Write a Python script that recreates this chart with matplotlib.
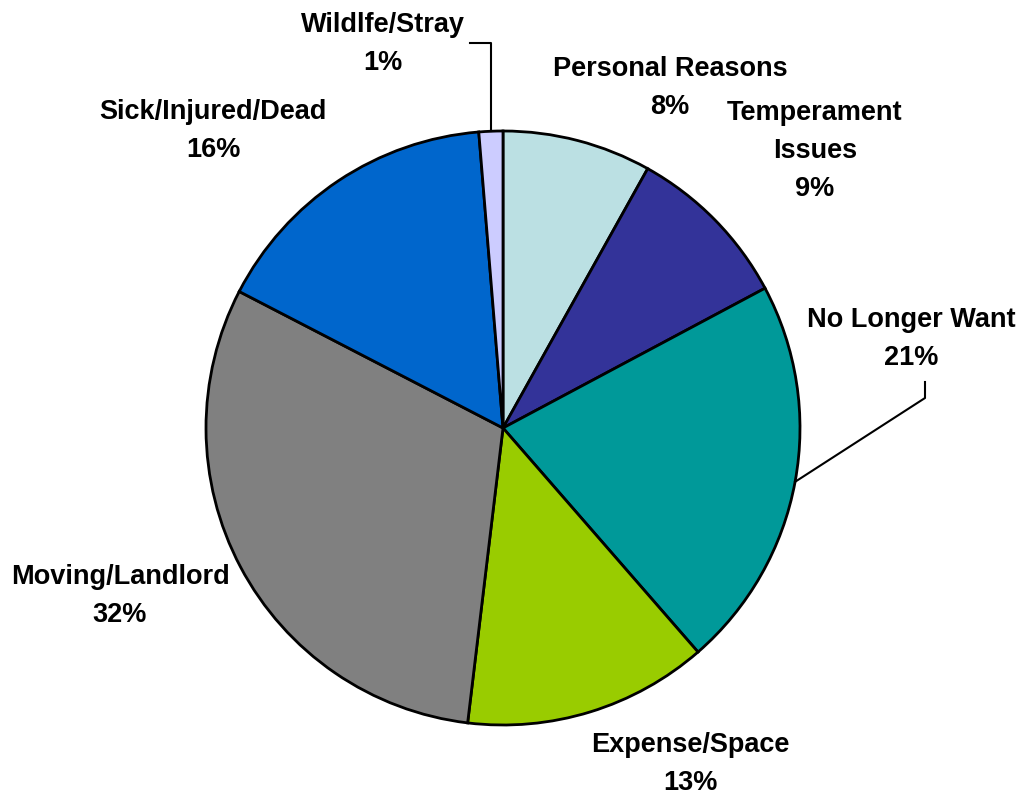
import numpy as np
import matplotlib.pyplot as plt

# slices clockwise from 12 o'clock
reasons = ['Personal Reasons', 'Temperament\nIssues', 'No Longer Want', 'Expense/Space',
           'Moving/Landlord', 'Sick/Injured/Dead', 'Wildlfe/Stray']
shares = [8.1, 9.1, 21.4, 13.3, 30.7, 16.1, 1.3]
pct_labels = ['8%', '9%', '21%', '13%', '32%', '16%', '1%']
colors = ['#BBE0E3', '#333399', '#009999', '#99CC00', '#808080', '#0066CC', '#CCCCFF']

W, H = 1035, 795
cx, cy, r = 503, 428, 297

fig = plt.figure(figsize=(W / 100, H / 100), dpi=100)
ax = fig.add_axes([(cx - r) / W, (H - cy - r) / H, 2 * r / W, 2 * r / H])
wedges, _ = ax.pie(shares, colors=colors, startangle=90, counterclock=False, radius=1,
                   wedgeprops=dict(edgecolor='black', linewidth=2))
ax.set_xlim(-1, 1)
ax.set_ylim(-1, 1)
ax.axis('off')


def px(x, y):
    # pixel position in the picture -> data coords of the pie axes
    return (x - cx) / r, (cy - y) / r


# label block centres (pixels)
label_pos = [(670, 88), (815, 151), (911, 339), (690, 764), (120, 596), (213, 131), (383, 44)]
for name, pct, (x, y) in zip(reasons, pct_labels, label_pos):
    tx, ty = px(x, y)
    ax.text(tx, ty, name + '\n' + pct, ha='center', va='center', fontsize=19.5,
            fontweight='bold', family='Liberation Sans', linespacing=1.6, clip_on=False)


def mid_point(w):
    a = np.deg2rad((w.theta1 + w.theta2) / 2)
    return np.cos(a), np.sin(a)


# leader lines
x0, y0 = mid_point(wedges[6])
ax.plot([x0, x0, px(470, 43)[0]], [y0, px(0, 43)[1], px(0, 43)[1]], color='black', lw=1.5,
        clip_on=False)
x0, y0 = mid_point(wedges[2])
ax.plot([x0, px(925, 0)[0], px(925, 0)[0]], [y0, px(0, 398)[1], px(0, 382)[1]], color='black',
        lw=1.5, clip_on=False)

fig.savefig('out.png', dpi=100)
